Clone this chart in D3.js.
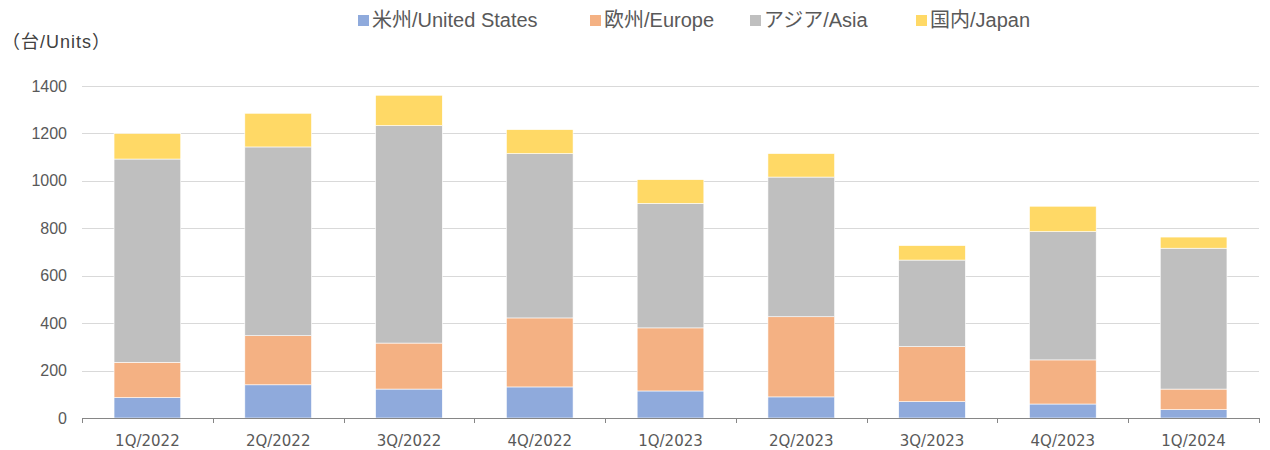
<!DOCTYPE html>
<html>
<head>
<meta charset="utf-8">
<script src="https://cdn.jsdelivr.net/npm/d3@7"></script>
<style>
  body { margin: 0; background: #fff; }
  svg { display: block; }
</style>
</head>
<body>
<div id="chart"></div>
<script>
// values (units)
var quarters = ["1Q/2022", "2Q/2022", "3Q/2022", "4Q/2022", "1Q/2023", "2Q/2023", "3Q/2023", "4Q/2023", "1Q/2024"];
var unitedStates = [86, 140, 122, 131, 114, 89, 69, 59, 35];
var europe = [149, 207, 194, 291, 266, 338, 232, 186, 87];
var asia = [857, 796, 917, 693, 525, 589, 365, 541, 594];
var japan = [108, 142, 128, 101, 100, 99, 61, 107, 47];
var seriesNames = ["米州/United States", "欧州/Europe", "アジア/Asia", "国内/Japan"];
var seriesKeys = ["us", "eu", "asia", "jp"];
var yTicks = [0, 200, 400, 600, 800, 1000, 1200, 1400];

var colors = { us: "#8faadc", eu: "#f4b183", asia: "#bfbfbf", jp: "#ffd966" };

var rows = quarters.map(function(q, i) {
    return { q: q, us: unitedStates[i], eu: europe[i], asia: asia[i], jp: japan[i] };
});

var W = 1270, H = 450,
    margin = { top: 86, right: 11, bottom: 32, left: 82 },
    width = W - margin.left - margin.right,
    height = H - margin.top - margin.bottom;

var svg = d3.select("#chart").append("svg")
    .attr("width", W)
    .attr("height", H);

var g = svg.append("g")
    .attr("transform", "translate(" + margin.left + "," + margin.top + ")");

var x = d3.scaleBand()
    .domain(quarters)
    .range([0, width])
    .paddingInner(0.49)
    .paddingOuter(0.245);

var y = d3.scaleLinear()
    .domain([0, 1400])
    .range([height, 0]);

// gridlines
g.selectAll(".grid")
    .data(yTicks.slice(1))
    .enter().append("line")
    .attr("class", "grid")
    .attr("x1", 0)
    .attr("x2", width)
    .attr("y1", function(d) { return Math.round(y(d)) + 0.5; })
    .attr("y2", function(d) { return Math.round(y(d)) + 0.5; })
    .style("stroke", "#d9d9d9")
    .style("stroke-width", 1);

var stack = d3.stack().keys(seriesKeys);
var layers = stack(rows);

g.selectAll(".layer")
    .data(layers)
    .enter().append("g")
    .attr("class", "layer")
    .style("fill", function(d) { return colors[d.key]; })
    .selectAll("rect")
    .data(function(d) { return d; })
    .enter().append("rect")
    .attr("x", function(d) { return x(d.data.q); })
    .attr("width", x.bandwidth())
    .attr("y", function(d) { return y(d[1]); })
    .attr("height", function(d) { return y(d[0]) - y(d[1]); })
    .style("stroke", "#fff")
    .style("stroke-width", 0.6);

// y axis labels
var yAxis = d3.axisLeft(y).tickValues(yTicks).tickFormat(d3.format("d")).tickSize(0).tickPadding(15);
var ya = g.append("g").call(yAxis);
ya.select(".domain").remove();
ya.selectAll("text")
    .style("font-family", "'Liberation Sans', Arial, sans-serif")
    .style("font-size", "16px")
    .style("fill", "#595959");

// x axis
var step = x.step();
var xa = g.append("g").attr("transform", "translate(0," + height + ")");
xa.append("line")
    .attr("x1", 0).attr("x2", width)
    .attr("y1", 0.5).attr("y2", 0.5)
    .style("stroke", "#868686").style("stroke-width", 1);
xa.selectAll(".tk")
    .data(d3.range(quarters.length + 1))
    .enter().append("line")
    .attr("class", "tk")
    .attr("x1", function(i) { return Math.round(i * step) + 0.5; })
    .attr("x2", function(i) { return Math.round(i * step) + 0.5; })
    .attr("y1", 0).attr("y2", 5)
    .style("stroke", "#868686");
xa.selectAll(".xl")
    .data(quarters)
    .enter().append("text")
    .attr("class", "xl")
    .attr("x", function(d) { return x(d) + x.bandwidth() / 2; })
    .attr("y", 28)
    .attr("text-anchor", "middle")
    .style("font-family", "'DejaVu Sans', Verdana, sans-serif")
    .style("font-size", "15px")
    .style("fill", "#595959")
    .text(function(d) { return d; });

// unit label
svg.append("text")
    .attr("x", 2)
    .attr("y", 48)
    .style("font-family", "'Liberation Sans', 'Noto Sans CJK JP', sans-serif")
    .style("font-size", "18px")
    .style("letter-spacing", "1px")
    .style("fill", "#404040")
    .text("（台/Units）");

// legend
var legendX = [358, 590, 750, 916];
var legend = svg.selectAll(".legend")
    .data(seriesKeys)
    .enter().append("g")
    .attr("class", "legend")
    .attr("transform", function(d, i) { return "translate(" + legendX[i] + ",20)"; });
legend.append("rect")
    .attr("x", 0).attr("y", -5)
    .attr("width", 11).attr("height", 11)
    .style("fill", function(d) { return colors[d]; });
legend.append("text")
    .attr("x", 14)
    .attr("y", 7)
    .style("font-family", "'Liberation Sans', 'Noto Sans CJK JP', sans-serif")
    .style("font-size", "20px")
    .style("fill", "#595959")
    .text(function(d, i) { return seriesNames[i]; });
</script>
</body>
</html>
